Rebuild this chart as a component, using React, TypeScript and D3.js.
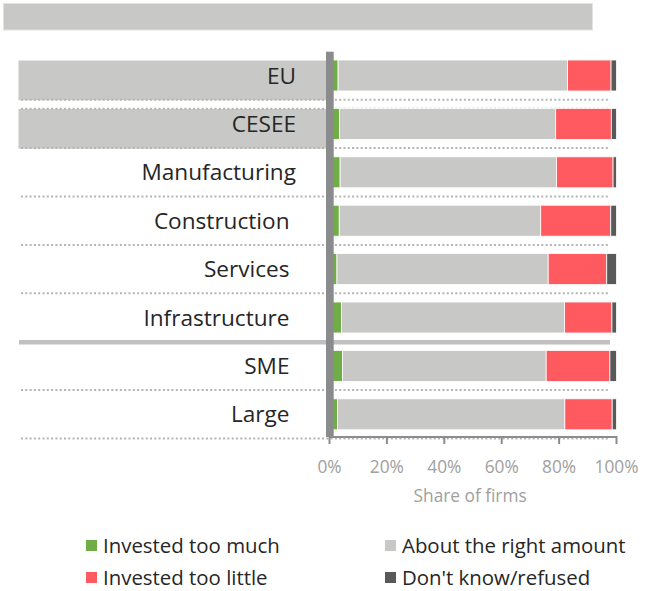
import React from "react";
import * as d3 from "d3";

const categories = ["EU", "CESEE", "Manufacturing", "Construction", "Services", "Infrastructure", "SME", "Large"];
const tooMuch = [3.0, 3.5, 3.7, 3.4, 2.6, 4.2, 4.5, 2.8];
const rightAmount = [79.9, 75.3, 75.4, 70.2, 73.6, 77.7, 71.0, 79.2];
const tooLittle = [15.2, 19.4, 19.7, 24.4, 20.4, 16.5, 22.2, 16.5];
const dontKnow = [1.9, 1.8, 1.2, 2.0, 3.4, 1.6, 2.3, 1.5];
const seriesNames = ["Invested too much", "About the right amount", "Invested too little", "Don't know/refused"];
const seriesColors = ["#70ad47", "#c8c8c6", "#ff5a5f", "#595959"];
const xTicks = [0, 20, 40, 60, 80, 100];
const highlighted = ["EU", "CESEE"];
const xTitle = "Share of firms";

const W = 653;
const H = 591;
const FONT = "'Open Sans', 'Noto Sans', sans-serif";

export default function App() {
  const x = d3.scaleLinear().domain([0, 100]).range([329.5, 616.5]);
  const y = d3
    .scaleBand<string>()
    .domain(categories)
    .range([51.3, 438.5])
    .paddingInner(0.36)
    .paddingOuter(0.18);
  const bw = y.bandwidth();
  const step = y.step();

  const rows = categories.map((c, i) => {
    const vals = [tooMuch[i], rightAmount[i], tooLittle[i], dontKnow[i]];
    let acc = 0;
    const segs = vals.map((v, k) => {
      const s = { x0: acc, x1: acc + v, k };
      acc += v;
      return s;
    });
    return { c, i, segs };
  });

  const sepY = (c: string) => (y(c) as number) + bw + (step - bw) / 2;
  const labelRight = (i: number) => (i < 3 ? 296 : 289.5);

  return (
    <div style={{ position: "fixed", left: 0, top: 0, width: W, height: H, background: "#fff" }}>
      <svg width={W} height={H} style={{ display: "block" }}>
        {/* title placeholder bar */}
        <rect x={3.5} y={3.5} width={589} height={26.5} fill="#c8c8c6" stroke="#e2e2e2" strokeWidth={1} />

        {/* highlight boxes */}
        {categories
          .filter((c) => highlighted.includes(c))
          .map((c) => (
            <rect key={"hb" + c} x={18.5} y={(y(c) as number) + 0.5} width={307.5} height={sepY(c) - (y(c) as number)} fill="#c8c8c6" />
          ))}

        {/* separators */}
        {categories.map((c, i) =>
          c === "Infrastructure" ? (
            <line key={"s" + c} x1={19} x2={610} y1={sepY(c) + 0.5} y2={sepY(c) + 0.5} stroke="#c0c0c0" strokeWidth={4.5} />
          ) : (
            <line key={"s" + c} x1={21} x2={609} y1={sepY(c)} y2={sepY(c)} stroke="#b4b4b4" strokeWidth={2} strokeDasharray="2,2.3" />
          )
        )}
        {/* dotted line at top of CESEE box */}
        <line x1={21} x2={610} y1={(y("CESEE") as number) + 0.3} y2={(y("CESEE") as number) + 0.3} stroke="#b4b4b4" strokeWidth={2} strokeDasharray="2,2.3" />

        {/* bars */}
        {rows.map((r) =>
          r.segs.map((s) => (
            <rect
              key={r.c + s.k}
              x={x(s.x0)}
              y={y(r.c)}
              width={Math.max(0, x(s.x1) - x(s.x0))}
              height={bw}
              fill={seriesColors[s.k]}
              stroke="#ffffff"
              strokeWidth={0.8}
            />
          ))
        )}

        {/* category labels */}
        {categories.map((c, i) => (
          <text
            key={"l" + c}
            x={labelRight(i)}
            y={(y(c) as number) + bw / 2}
            dy="0.36em"
            textAnchor="end"
            fontFamily={FONT}
            fontSize={22.6}
            fill="#262626"
          >
            {c}
          </text>
        ))}

        {/* x axis */}
        <line x1={x(0)} x2={x(100)} y1={437} y2={437} stroke="#8c8c8c" strokeWidth={2} />
        {xTicks.map((t) => (
          <g key={"t" + t}>
            <line x1={x(t)} x2={x(t)} y1={436} y2={444} stroke="#8c8c8c" strokeWidth={2} />
            <text x={x(t)} y={467} dy="0.36em" textAnchor="middle" fontFamily={FONT} fontSize={17.3} fill="#a0a0a0">
              {t + "%"}
            </text>
          </g>
        ))}
        <text x={x(49)} y={496} dy="0.36em" textAnchor="middle" fontFamily={FONT} fontSize={17.3} fill="#a0a0a0">
          {xTitle}
        </text>

        {/* thick zero axis */}
        <rect x={326} y={51.7} width={7.7} height={385.3} fill="#898b8d" />

        {/* legend */}
        {seriesNames.map((n, k) => {
          const col = k === 0 || k === 2 ? 0 : 1;
          const row = k === 0 || k === 1 ? 0 : 1;
          const lx = col === 0 ? 86 : 385;
          const ly = row === 0 ? 545.5 : 577.5;
          return (
            <g key={"lg" + k}>
              <rect x={lx} y={ly - 5.5} width={11} height={11} fill={seriesColors[k]} />
              <text x={lx + 17} y={ly} dy="0.36em" fontFamily={FONT} fontSize={20.4} fill="#262626">
                {n}
              </text>
            </g>
          );
        })}
      </svg>
    </div>
  );
}
